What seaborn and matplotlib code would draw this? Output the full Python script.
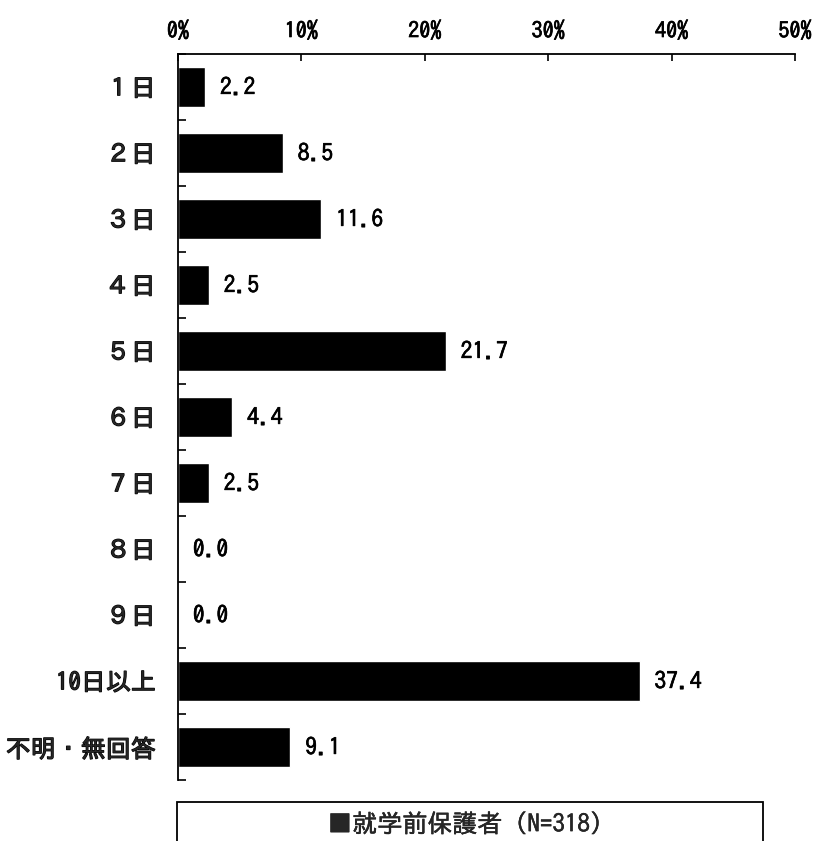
import matplotlib
matplotlib.use("Agg")
import matplotlib.pyplot as plt
import matplotlib.ticker as mticker
import matplotlib.patheffects as pe
from matplotlib.patches import Rectangle
import seaborn as sns
import pandas as pd

categories = ["１日", "２日", "３日", "４日", "５日", "６日", "７日", "８日", "９日",
              "10日以上", "不明・無回答"]
values = [2.2, 8.5, 11.6, 2.5, 21.7, 4.4, 2.5, 0.0, 0.0, 37.4, 9.1]
x_ticks = [0, 10, 20, 30, 40, 50]
series_label = "■就学前保護者 (N=318)"

sns.set_style("white")
plt.rcParams["font.family"] = ["IPAGothic", "Noto Sans CJK JP", "DejaVu Sans"]


def heavy(w):
    # thicken the gothic glyph outlines by w points
    return [pe.withStroke(linewidth=w, foreground="black")]


df = pd.DataFrame({"category": categories, "value": values})

fig = plt.figure(figsize=(8.15, 8.41), dpi=100)
ax = fig.add_axes([0.2184, 0.0725, 0.7571, 0.8633])

sns.barplot(data=df, x="value", y="category", orient="h", color="black",
            width=0.6, saturation=1, ax=ax, order=categories)

ax.set_xlim(0, 50)
ax.set_ylim(len(categories) - 0.5, -0.5)
ax.set_xlabel("")
ax.set_ylabel("")

# x axis on top, percent labels
ax.xaxis.tick_top()
ax.set_xticks(x_ticks)
ax.xaxis.set_major_formatter(mticker.FuncFormatter(lambda v, p: f"{v:.0f}%"))
ax.tick_params(axis="x", direction="in", length=5, width=1.2, pad=10,
               colors="black", labelsize=16)
for lab in ax.get_xticklabels():
    lab.set_path_effects(heavy(0.5))

# category labels, ticks at the category boundaries
ax.set_yticks(range(len(categories)))
ax.set_yticklabels(categories, fontsize=18)
for lab in ax.get_yticklabels():
    lab.set_path_effects(heavy(0.9))
ax.set_yticks([i - 0.5 for i in range(len(categories) + 1)], minor=True)
ax.tick_params(axis="y", which="major", length=0, pad=16)
ax.tick_params(axis="y", which="minor", direction="in", length=6, width=1.2,
               left=True, colors="black")

for side in ["right", "bottom"]:
    ax.spines[side].set_visible(False)
for side in ["top", "left"]:
    ax.spines[side].set_linewidth(1.3)
    ax.spines[side].set_color("black")

# value labels
for i, v in enumerate(values):
    ax.text(v + 1.2, i, f"{v:.1f}", va="center", ha="left",
            fontsize=17, color="black", path_effects=heavy(0.5))

# series caption box below the plot
fig.patches.append(Rectangle((177 / 815, -0.05), (763 - 177) / 815,
                             0.05 + (841 - 802) / 841, transform=fig.transFigure,
                             fill=False, edgecolor="black", linewidth=1.3))
fig.text(465 / 815, 1 - 823 / 841, series_label, ha="center", va="center",
         fontsize=18, path_effects=heavy(0.3))

fig.savefig("out.png", dpi=100)
